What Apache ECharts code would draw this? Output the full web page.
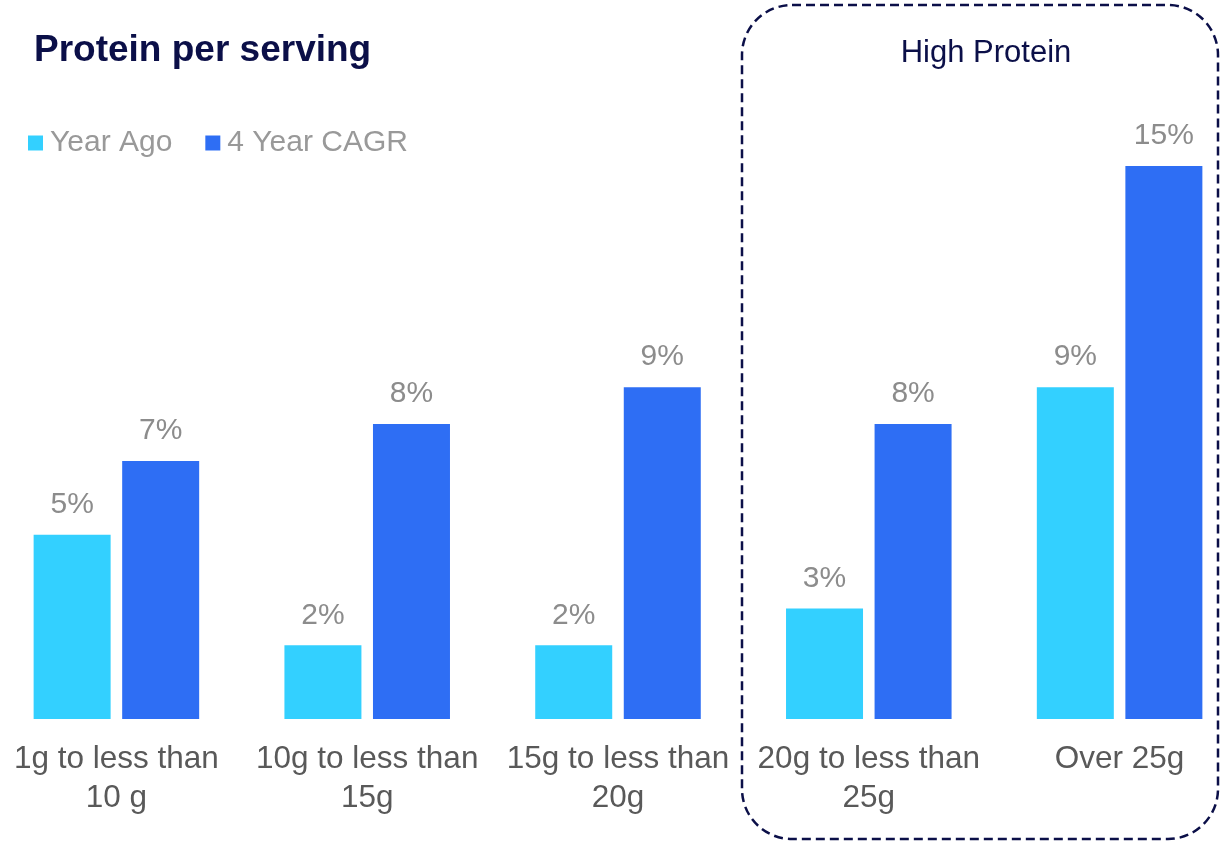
<!DOCTYPE html>
<html>
<head>
<meta charset="utf-8">
<script src="https://cdn.jsdelivr.net/npm/echarts@6/dist/echarts.min.js"></script>
<style>
  html, body { margin: 0; padding: 0; background: #ffffff; }
  #chart { width: 1220px; height: 843px; }
</style>
</head>
<body>
<div id="chart"></div>
<script>
// Protein-per-serving buckets and growth rates (%)
const categories = [
  '1g to less than\n10 g',
  '10g to less than\n15g',
  '15g to less than\n20g',
  '20g to less than\n25g',
  'Over 25g'
];
const yearAgo = [5, 2, 2, 3, 9];
const cagr4Year = [7, 8, 9, 8, 15];
const seriesNames = ['Year Ago', '4 Year CAGR'];
const titleText = 'Protein per serving';
const highlightText = 'High Protein';

const FONT = '"Liberation Sans", Arial, sans-serif';
const NAVY = '#0b0f48';

const chart = echarts.init(document.getElementById('chart'), null, { renderer: 'canvas' });

const valueLabel = {
  show: true,
  position: 'top',
  distance: 15,
  color: '#8c8c8c',
  fontFamily: FONT,
  fontSize: 30,
  formatter: p => p.value + '%'
};

chart.setOption({
  animation: false,
  backgroundColor: '#ffffff',
  title: {
    text: titleText,
    left: 29,
    top: 27,
    textStyle: { fontFamily: FONT, fontSize: 37, fontWeight: 'bold', color: NAVY }
  },
  legend: {
    left: 23,
    top: 123,
    icon: 'rect',
    itemWidth: 15,
    itemHeight: 15,
    itemGap: 33,
    textStyle: { fontFamily: FONT, fontSize: 30, color: '#999999', padding: [0, 0, 0, 2] },
    data: seriesNames
  },
  // the plot band is wider than the page so that the five groups land evenly
  grid: { left: -9, width: 1254, top: 0, bottom: 124, containLabel: false, outerBoundsMode: 'none' },
  xAxis: {
    type: 'category',
    data: categories,
    axisLine: { show: false },
    axisTick: { show: false },
    axisLabel: {
      interval: 0,
      margin: 21,
      fontFamily: FONT,
      fontSize: 31.5,
      lineHeight: 39,
      color: '#595959'
    }
  },
  yAxis: {
    type: 'value',
    min: 0,
    max: 19.5,
    show: false,
    splitLine: { show: false }
  },
  series: [
    {
      name: seriesNames[0],
      type: 'bar',
      data: yearAgo,
      barWidth: 77,
      barGap: '15%',
      itemStyle: { color: '#33d0ff' },
      label: valueLabel
    },
    {
      name: seriesNames[1],
      type: 'bar',
      data: cagr4Year,
      barWidth: 77,
      barGap: '15%',
      itemStyle: { color: '#2e6ef4' },
      label: valueLabel
    }
  ],
  graphic: [
    {
      type: 'rect',
      shape: { x: 742, y: 5, width: 476, height: 834, r: 50 },
      style: { fill: 'none', stroke: NAVY, lineWidth: 2.5, lineDash: [9, 5] },
      silent: true
    },
    {
      type: 'text',
      x: 986,
      y: 53,
      style: {
        text: highlightText,
        fontFamily: FONT,
        fontSize: 31,
        fill: NAVY,
        textAlign: 'center',
        textVerticalAlign: 'middle'
      },
      silent: true
    }
  ]
});
</script>
</body>
</html>
